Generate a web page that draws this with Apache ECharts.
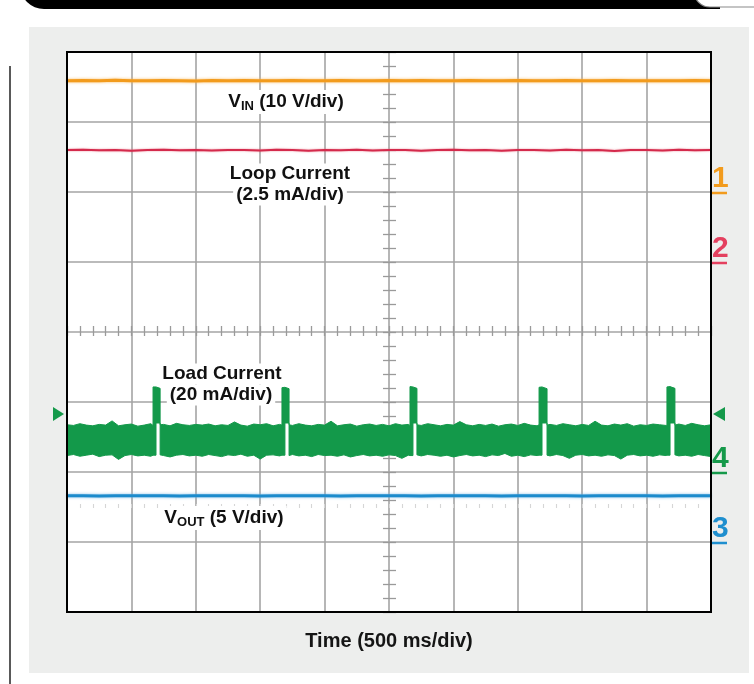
<!DOCTYPE html>
<html>
<head>
<meta charset="utf-8">
<script src="https://cdn.jsdelivr.net/npm/echarts/dist/echarts.min.js"></script>
<style>
html,body{margin:0;padding:0;background:#fff;}
#c{width:754px;height:684px;}
</style>
</head>
<body>
<div id="c"></div>
<script>
// ---------- DATA ----------
// time base: 500 ms/div, 10 divisions
const timeDivMs = 500;
const timeSpanMs = 5000;

// channels: name, V or mA per division, ground marker position (division from bottom)
const channelLabels = ['1', '2', '3', '4'];
const channelPerDiv = [10, 2.5, 5, 20];          // VIN V/div, loop mA/div, VOUT V/div, load mA/div
const channelGroundDiv = [6, 5, 1, 2];
const channelColors = ['#f29b1d', '#e4405f', '#1f8fcf', '#15994a'];

// sample times for the slow traces (ms)
const traceTime = [0,125,250,375,500,625,750,875,1000,1125,1250,1375,1500,1625,1750,1875,2000,
  2125,2250,2375,2500,2625,2750,2875,3000,3125,3250,3375,3500,3625,3750,3875,4000,4125,4250,
  4375,4500,4625,4750,4875,5000];

// CH1 input voltage (V)
const vinVolts = [15.90,15.94,15.88,15.95,15.91,15.89,15.93,15.90,15.87,15.92,15.90,15.94,15.89,
  15.91,15.93,15.88,15.90,15.94,15.90,15.88,15.92,15.90,15.94,15.88,15.91,15.93,15.89,15.90,15.94,
  15.89,15.91,15.92,15.88,15.90,15.93,15.89,15.91,15.90,15.88,15.92,15.90];

// CH2 loop current (mA)
const loopMilliamps = [4.00,4.01,3.99,4.00,3.97,4.00,4.01,3.99,4.00,3.98,4.00,4.00,3.98,4.01,4.00,
  3.97,4.00,3.99,4.01,3.98,4.00,4.00,3.97,4.00,4.01,3.99,4.00,3.97,4.00,4.00,3.98,4.01,3.99,4.00,
  3.96,4.00,4.00,3.98,4.01,3.99,4.00];

// CH3 output voltage (V)
const voutVolts = [3.30,3.31,3.29,3.30,3.30,3.31,3.30,3.29,3.30,3.30,3.31,3.30,3.29,3.30,3.31,3.30,
  3.30,3.29,3.30,3.31,3.30,3.30,3.29,3.30,3.31,3.30,3.30,3.29,3.30,3.30,3.31,3.30,3.29,3.30,3.30,
  3.31,3.30,3.29,3.30,3.30,3.30];

// CH4 load current envelope: [time ms, upper mA, lower mA]
const loadTrace = [
  [0,13.5,4.7],[50,13.3,5.0],[100,13.8,4.5],[150,13.4,4.8],[200,13.2,5.1],[250,13.6,4.4],[300,13.4,4.8],
  [350,14.6,4.9],[400,13.2,3.6],[450,13.5,4.7],[500,13.7,5.0],[550,13.1,4.6],[600,13.4,4.8],[650,13.8,4.5],
  [668,13.3,4.8],[668,24.3,4.8],[691,24.3,4.8],[691,24.3,14.0],[723,23.9,14.0],[723,13.5,4.9],
  [750,13.6,4.7],[800,13.2,4.3],[850,13.9,4.8],[900,13.5,5.0],[950,13.3,4.6],[1000,13.6,4.8],[1050,13.4,4.5],
  [1100,13.7,5.0],[1150,13.2,4.7],[1200,13.5,4.4],[1250,13.3,4.9],[1300,14.3,4.7],[1350,13.4,5.1],
  [1400,13.1,4.5],[1450,13.7,4.8],[1500,13.5,3.7],[1550,13.8,4.8],[1600,13.2,4.9],[1650,13.6,4.6],
  [1669,13.4,4.8],[1669,24.1,4.8],[1692,24.2,4.8],[1692,24.2,14.0],[1724,23.8,14.0],[1724,13.5,4.7],
  [1750,13.3,5.0],[1800,13.8,4.6],[1850,13.4,4.8],[1900,13.2,4.4],[1950,13.6,5.0],[2000,13.4,4.7],
  [2050,14.5,4.8],[2100,13.2,4.5],[2150,13.5,4.9],[2200,13.7,4.3],[2250,13.1,4.7],[2300,13.5,5.0],
  [2350,13.7,4.6],[2400,13.3,4.8],[2450,13.6,4.5],[2500,13.2,4.9],[2550,13.8,4.7],[2600,13.4,3.9],
  [2650,13.6,4.8],
  [2663,13.3,4.7],[2663,24.4,4.7],[2686,24.3,4.7],[2686,24.3,14.0],[2717,23.9,14.0],[2717,13.5,4.9],
  [2750,13.3,4.6],[2800,13.8,5.0],[2850,13.5,4.8],[2900,13.2,4.5],[2950,13.6,4.8],[3000,13.4,4.3],
  [3050,14.4,4.7],[3100,13.5,5.0],[3150,13.2,4.6],[3200,13.6,4.8],[3250,13.3,4.4],[3300,13.7,4.9],
  [3350,13.1,4.7],[3400,13.5,5.3],[3450,13.7,4.5],[3500,13.3,4.8],[3550,13.9,4.4],[3600,13.4,4.9],
  [3650,13.2,4.7],
  [3665,13.5,4.8],[3665,24.2,4.8],[3688,24.3,4.8],[3688,24.3,14.0],[3727,23.8,14.0],[3727,13.4,4.8],
  [3750,13.6,4.6],[3800,13.3,5.0],[3850,13.8,4.7],[3900,13.5,3.9],[3950,13.2,4.8],[4000,13.6,5.0],
  [4050,13.3,4.6],[4100,14.5,4.8],[4150,13.4,4.5],[4200,13.2,4.9],[4250,13.7,4.7],[4300,13.4,3.7],
  [4350,13.8,4.8],[4400,13.1,5.0],[4450,13.5,4.6],[4500,13.3,4.8],[4550,13.7,4.5],[4600,13.5,4.9],
  [4650,13.3,4.7],
  [4658,13.6,4.8],[4658,24.3,4.8],[4682,24.4,4.8],[4682,24.4,14.0],[4720,23.9,14.0],[4720,13.4,4.9],
  [4750,13.7,4.6],[4800,13.3,4.8],[4850,13.9,4.5],[4900,13.5,5.0],[4950,13.2,4.7],[5000,13.5,4.4]
];

// trigger level on CH4 (mA)
const triggerLevelMa = 16.6;

// trace annotations
const labelVin = ['V', 'IN', ' (10 V/div)'];
const labelLoop = ['Loop Current', '(2.5 mA/div)'];
const labelLoad = ['Load Current', '(20 mA/div)'];
const labelVout = ['V', 'OUT', ' (5 V/div)'];
const labelTime = 'Time (500 ms/div)';

// ---------- CHART ----------
const FONT = "'Liberation Sans', Arial, Helvetica, sans-serif";
const NARROW = "'Liberation Sans Narrow', 'Liberation Sans', Arial, sans-serif";
const chart = echarts.init(document.getElementById('c'), null, {renderer: 'canvas'});

const GRID = {left: 67, top: 52, width: 644, height: 560};
const gridLineColor = '#a4a4a4';
const rulerColor = '#9a9a9a';
const loadColor = '#13994a';

function xAxisBase(extra) {
  return Object.assign({
    type: 'value', gridIndex: 0, min: 0, max: timeSpanMs, interval: timeDivMs, position: 'bottom',
    axisLine: {show: false, onZero: false}, axisTick: {show: false}, axisLabel: {show: false},
    splitLine: {show: false}
  }, extra);
}
function yAxisBase(extra) {
  return Object.assign({
    type: 'value', gridIndex: 0, position: 'left',
    axisLine: {show: false, onZero: false}, axisTick: {show: false}, axisLabel: {show: false},
    splitLine: {show: false}
  }, extra);
}

const channelAxes = channelPerDiv.map((s, i) => yAxisBase({
  show: false,
  min: -channelGroundDiv[i] * s,
  max: (8 - channelGroundDiv[i]) * s
}));

// envelope polygon of the noisy load-current trace, placed through the axes
function renderLoadBand(params, api) {
  if (params.dataIndex !== 0) return null;
  const upper = loadTrace.map(p => api.coord([p[0], p[1]]));
  const lower = loadTrace.map(p => api.coord([p[0], p[2]])).reverse();
  return {
    type: 'polygon',
    shape: {points: upper.concat(lower)},
    style: {fill: loadColor, stroke: loadColor, lineWidth: 1}
  };
}

const option = {
  animation: false,
  backgroundColor: '#ffffff',
  grid: Object.assign({show: true, backgroundColor: '#ffffff', borderWidth: 0, containLabel: false, outerBoundsMode: 'none'}, GRID),
  xAxis: [
    xAxisBase({
      splitLine: {show: true, showMinLine: false, showMaxLine: false, lineStyle: {color: gridLineColor, width: 1.6}},
      name: labelTime, nameLocation: 'middle', nameGap: 19,
      nameTextStyle: {fontFamily: FONT, fontSize: 20, fontWeight: 'bold', color: '#151515'}
    }),
    // centre horizontal ruler ticks
    xAxisBase({
      offset: -276,
      axisTick: {show: true, inside: true, length: 10, lineStyle: {color: rulerColor, width: 1.3}},
      minorTick: {show: true, splitNumber: 5, length: 10, lineStyle: {color: rulerColor, width: 1.3}}
    }),
    // faint ruler ticks below the VOUT trace
    xAxisBase({
      offset: -104,
      axisTick: {show: true, inside: true, length: 4, lineStyle: {color: '#d6d6d6', width: 1.1}},
      minorTick: {show: true, splitNumber: 5, length: 4, lineStyle: {color: '#d6d6d6', width: 1.1}}
    })
  ],
  yAxis: [
    yAxisBase({
      min: 0, max: 8, interval: 1,
      splitLine: {show: true, showMinLine: false, showMaxLine: false, lineStyle: {color: gridLineColor, width: 1.6}}
    }),
    // centre vertical ruler ticks
    yAxisBase({
      min: 0, max: 8, interval: 1, offset: -316,
      axisTick: {show: true, inside: true, length: 13, lineStyle: {color: rulerColor, width: 1.3}},
      minorTick: {show: true, splitNumber: 5, length: 13, lineStyle: {color: rulerColor, width: 1.3}}
    })
  ].concat(channelAxes),
  series: [
    {
      type: 'line', name: 'VIN', xAxisIndex: 0, yAxisIndex: 2, silent: true, symbol: 'none', z: 5,
      data: traceTime.map((t, i) => [t, vinVolts[i]]),
      lineStyle: {color: '#f29b1d', width: 3, shadowBlur: 3, shadowColor: 'rgba(248,180,80,0.9)'}
    },
    {
      type: 'line', name: 'Loop Current', xAxisIndex: 0, yAxisIndex: 3, silent: true, symbol: 'none', z: 5,
      data: traceTime.map((t, i) => [t, loopMilliamps[i]]),
      lineStyle: {color: '#d42a4c', width: 2, shadowBlur: 2, shadowColor: 'rgba(230,90,110,0.7)'}
    },
    {
      type: 'line', name: 'VOUT', xAxisIndex: 0, yAxisIndex: 4, silent: true, symbol: 'none', z: 5,
      data: traceTime.map((t, i) => [t, voutVolts[i]]),
      lineStyle: {color: '#1c8bcc', width: 3, shadowBlur: 3, shadowColor: 'rgba(110,180,230,0.9)'}
    },
    {
      type: 'custom', name: 'Load Current', xAxisIndex: 0, yAxisIndex: 5, silent: true, z: 5, clip: true,
      data: loadTrace,
      encode: {x: 0, y: [1, 2]},
      renderItem: renderLoadBand
    }
  ]
};

chart.setOption(option);

// ---------- decorations positioned from the axes ----------
function txt(x, y, text, extra) {
  const style = Object.assign({
    text: text, fill: '#111', font: 'bold 19px ' + FONT,
    align: 'center', verticalAlign: 'middle', textAlign: 'center', textVerticalAlign: 'middle',
    backgroundColor: '#fff', padding: [1, 3]
  }, extra || {});
  return {type: 'text', x: x, y: y, z: 3, silent: true, style: style};
}
function subLabel(parts) {
  return {
    text: '{m|' + parts[0] + '}{s|' + parts[1] + '}{m|' + parts[2] + '}',
    rich: {
      m: {fontSize: 19, fontWeight: 'bold', fontFamily: FONT, fill: '#111', lineHeight: 22, verticalAlign: 'middle'},
      s: {fontSize: 13, fontWeight: 'bold', fontFamily: FONT, fill: '#111', lineHeight: 12, verticalAlign: 'bottom'}
    }
  };
}

const graphics = [
  {type: 'rect', z: -20, silent: true, shape: {x: 29, y: 27, width: 720, height: 646}, style: {fill: '#edeeed'}},
  {type: 'rect', z: -20, silent: true, shape: {x: 20, y: -40, width: 700, height: 49, r: [0, 0, 0, 24]}, style: {fill: '#000'}},
  {type: 'rect', z: -19, silent: true, shape: {x: 694, y: -20, width: 80, height: 27, r: [0, 0, 0, 16]}, style: {fill: '#fff', stroke: '#8a8a8a', lineWidth: 1.2}},
  {type: 'line', z: -19, silent: true, shape: {x1: 10, y1: 66, x2: 10, y2: 684}, style: {stroke: '#222', lineWidth: 1.5}},
  {type: 'rect', z: 50, silent: true, shape: {x: GRID.left, y: GRID.top, width: GRID.width, height: GRID.height}, style: {fill: 'none', stroke: '#000', lineWidth: 2}},
  txt(286, 102, null, subLabel(labelVin)),
  txt(290, 174, labelLoop[0]),
  txt(290, 195, labelLoop[1]),
  txt(222, 374, labelLoad[0]),
  txt(221, 395, labelLoad[1]),
  txt(224, 518, null, subLabel(labelVout))
];

const rightX = GRID.left + GRID.width;
channelLabels.forEach((lab, i) => {
  const gy = chart.convertToPixel({xAxisIndex: 0, yAxisIndex: 2 + i}, [timeSpanMs, 0])[1];
  graphics.push({
    type: 'text', z: 60, silent: true, x: rightX + 1, y: gy - 13,
    style: {text: lab, fill: channelColors[i], font: 'bold 30px ' + NARROW,
      align: 'left', verticalAlign: 'middle', textAlign: 'left', textVerticalAlign: 'middle'}
  });
  graphics.push({
    type: 'line', z: 60, silent: true,
    shape: {x1: rightX + 1, y1: gy + 1, x2: rightX + 16, y2: gy + 1},
    style: {stroke: channelColors[i], lineWidth: 2.5}
  });
});

const ty = chart.convertToPixel({xAxisIndex: 0, yAxisIndex: 5}, [0, triggerLevelMa])[1];
const lx = GRID.left;
graphics.push({type: 'polygon', z: 60, silent: true, shape: {points: [[lx - 14, ty - 7], [lx - 3, ty], [lx - 14, ty + 7]]}, style: {fill: '#14994a'}});
graphics.push({type: 'polygon', z: 60, silent: true, shape: {points: [[rightX + 14, ty - 7], [rightX + 2, ty], [rightX + 14, ty + 7]]}, style: {fill: '#14994a'}});

chart.setOption({graphic: {elements: graphics}});
</script>
</body>
</html>
